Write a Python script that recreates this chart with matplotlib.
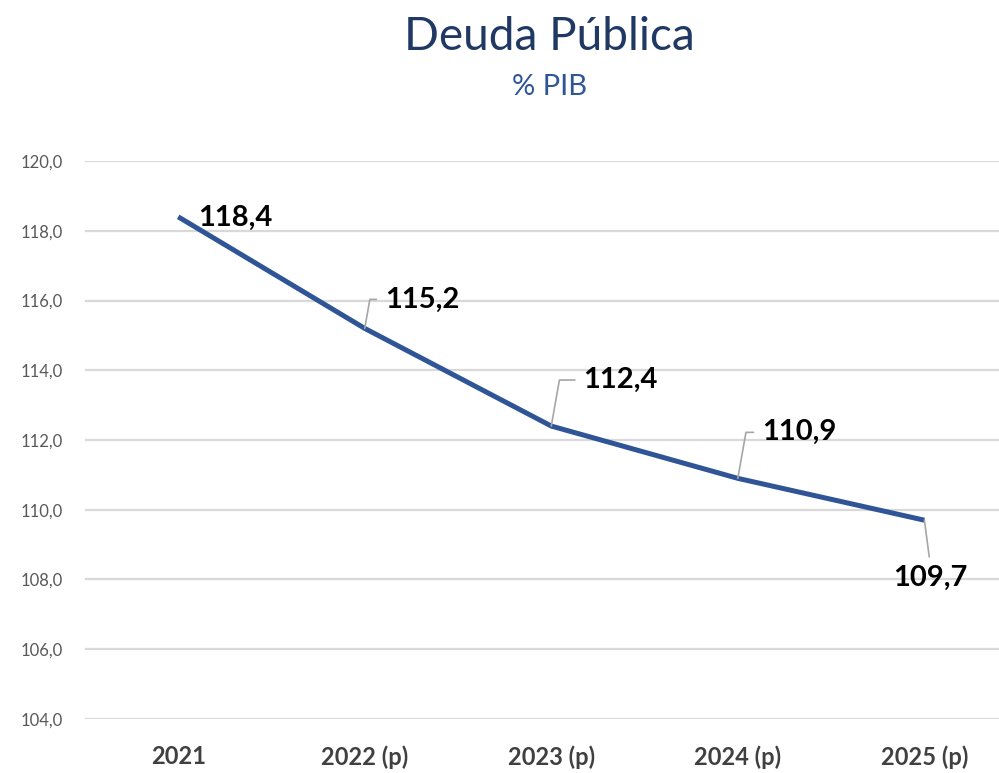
import matplotlib
matplotlib.use('Agg')
import matplotlib.pyplot as plt

plt.rcParams['font.family'] = ['Lato', 'DejaVu Sans']

years = ['2021', '2022 (p)', '2023 (p)', '2024 (p)', '2025 (p)']
deuda = [118.4, 115.2, 112.4, 110.9, 109.7]
etiquetas = ['118,4', '115,2', '112,4', '110,9', '109,7']
yticks = [104, 106, 108, 110, 112, 114, 116, 118, 120]

# label offsets in pixels (dx, dy) from each point
offsets = [(20, -1), (20, 29), (32, 46), (24, 46), (6, -58)]

fig = plt.figure(figsize=(9.99, 7.73), dpi=100, facecolor='white')
ax = fig.add_axes([0.085, 0.0699, 0.915, 0.7218])

x = list(range(len(years)))
ax.plot(x, deuda, color='#2F5597', lw=3.6, solid_capstyle='butt', zorder=3)

ax.set_xlim(-0.5, 4.4)
ax.set_ylim(104, 120)
ax.set_yticks(yticks)
ax.set_yticklabels([('%.1f' % v).replace('.', ',') for v in yticks])
ax.set_xticks(x)
ax.set_xticklabels(years)

ax.yaxis.grid(True, color='#D9D9D9', lw=1.6)
ax.set_axisbelow(True)
for s in ax.spines.values():
    s.set_visible(False)
ax.tick_params(axis='both', length=0)
ax.tick_params(axis='y', labelsize=12, labelcolor='#595959', pad=16)
ax.tick_params(axis='x', labelsize=17, labelcolor='#404040', pad=19)
for t in ax.get_xticklabels():
    t.set_fontweight('bold')

for i in range(len(deuda)):
    dx, dy = offsets[i]
    if i == 0:
        ax.annotate(etiquetas[i], (x[i], deuda[i]), xytext=(dx, dy), textcoords='offset pixels',
                    ha='left', va='center', fontsize=21, fontweight='bold', color='black', zorder=4)
    elif i == len(deuda) - 1:
        ax.annotate(etiquetas[i], (x[i], deuda[i]), xytext=(dx, dy), textcoords='offset pixels',
                    ha='center', va='center', fontsize=21, fontweight='bold', color='black',
                    arrowprops=dict(arrowstyle='-', color='#A6A6A6', lw=1.2, relpos=(0.5, 1.0),
                                    shrinkA=4, shrinkB=0))
    else:
        ax.annotate(etiquetas[i], (x[i], deuda[i]), xytext=(dx, dy), textcoords='offset pixels',
                    ha='left', va='center', fontsize=21, fontweight='bold', color='black',
                    arrowprops=dict(arrowstyle='-', color='#A6A6A6', lw=1.2, relpos=(0.0, 0.5),
                                    shrinkA=4, shrinkB=0,
                                    connectionstyle='angle,angleA=180,angleB=80,rad=0'))

fig.text(0.55, 0.952, 'Deuda Pública', ha='center', va='center', fontsize=33, color='#1F3864')
fig.text(0.55, 0.887, '% PIB', ha='center', va='center', fontsize=21, color='#2F5597')

fig.savefig('out.png', dpi=100, facecolor='white')
